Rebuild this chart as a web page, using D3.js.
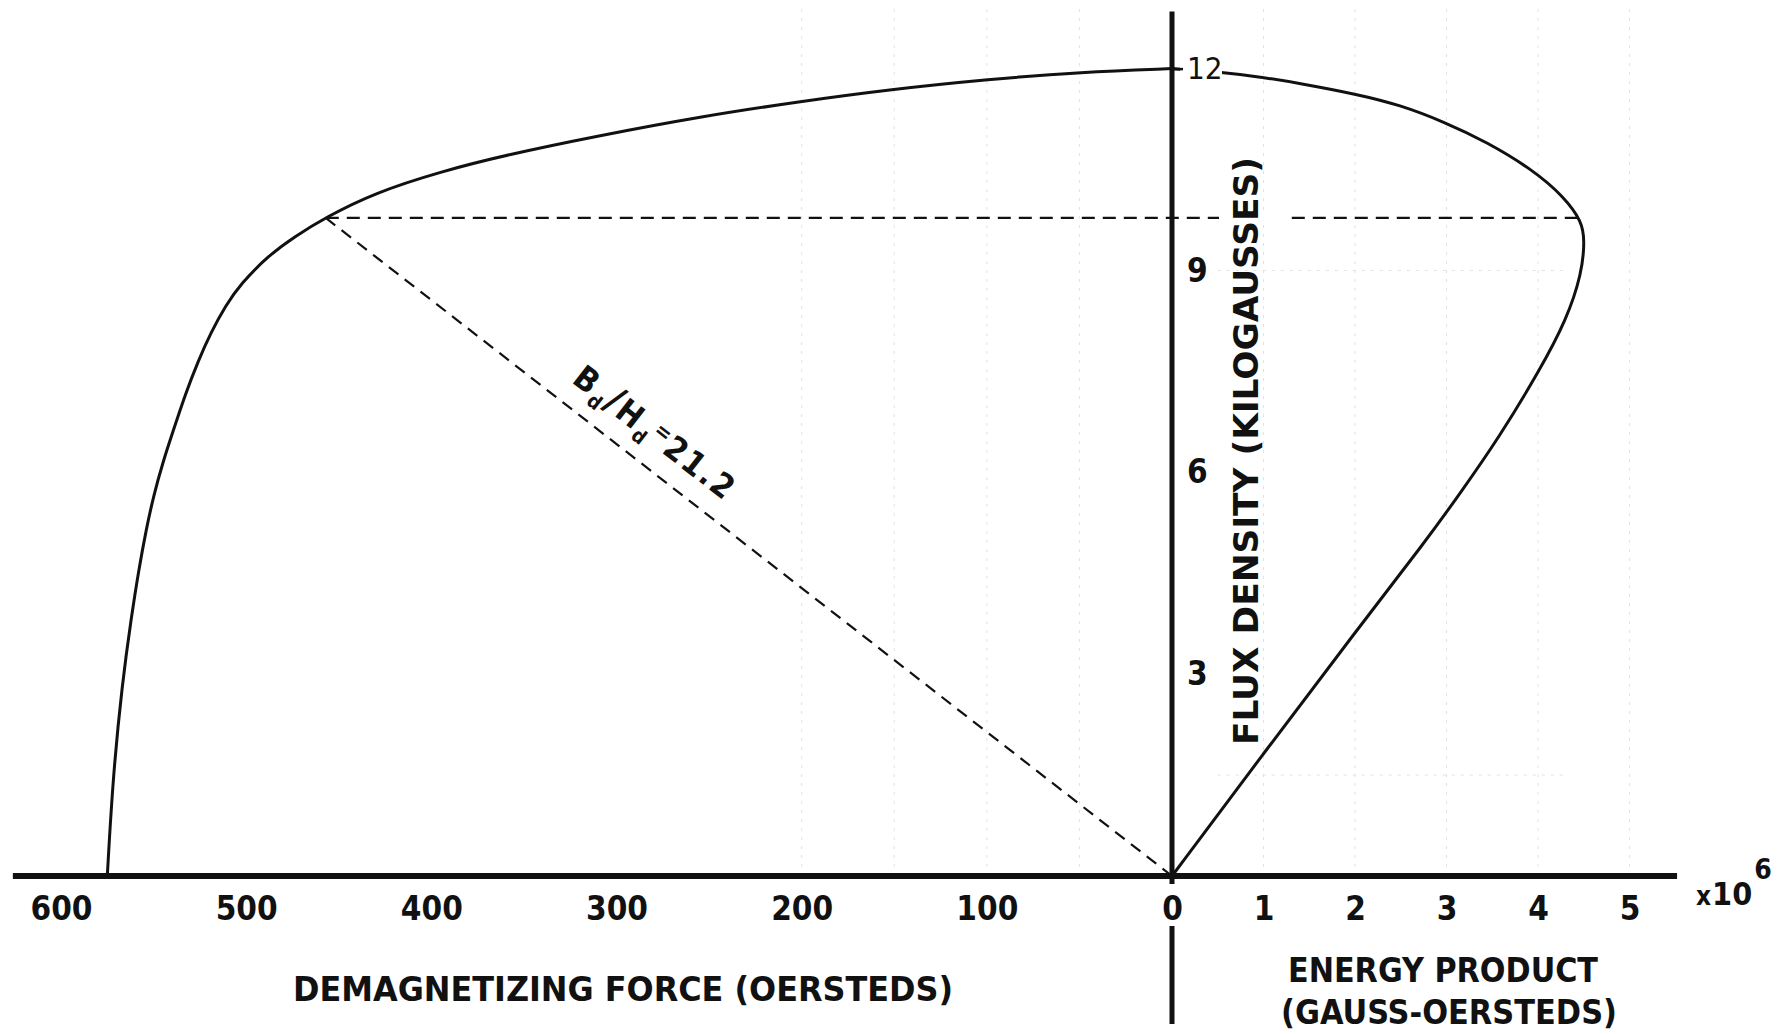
<!DOCTYPE html>
<html><head><meta charset="utf-8">
<script src="https://cdn.jsdelivr.net/npm/d3@7"></script>
<style>
body{margin:0;background:#fff;}
svg{display:block;background:#fff;}
text{font-family:'DejaVu Sans Condensed','DejaVu Sans',sans-serif;font-stretch:condensed;font-weight:bold;fill:#111;}
</style></head><body>
<svg id="chart" width="1783" height="1034"></svg>
<script>
// Demagnetization curve: H (oersteds) and B (kilogausses)
const demagH = [575, 572, 567, 562, 558, 554, 550, 545, 539, 533, 526, 519, 511, 503, 488, 474, 457, 431, 395, 359, 312, 254, 201, 152, 99, 49, 0];
const demagB = [0, 1.45, 2.85, 3.85, 4.55, 5.15, 5.65, 6.15, 6.65, 7.15, 7.65, 8.08, 8.48, 8.8, 9.22, 9.5, 9.79, 10.15, 10.47, 10.72, 10.99, 11.29, 11.51, 11.69, 11.84, 11.95, 12.0];
// Energy product curve: E (x10^6 gauss-oersteds) and B (kilogausses)
const energyE = [0, 1.0, 2.0, 2.78, 3.15, 3.58, 4.02, 4.31, 4.48, 4.51, 4.48, 4.28, 3.95, 3.44, 2.97, 2.49, 2.02, 1.40, 1.0, 0.52, 0];
const energyB = [0, 1.82, 3.62, 4.99, 5.69, 6.53, 7.52, 8.26, 8.96, 9.45, 9.73, 10.10, 10.49, 10.91, 11.21, 11.46, 11.62, 11.78, 11.87, 11.95, 12.0];
// Point of maximum energy product
const maxH = 457, maxB = 9.78, maxE = 4.47;
const ratioText = "21.2";
// Tick labels
const forceTicks = [600, 500, 400, 300, 200, 100, 0];
const energyTicks = [1, 2, 3, 4, 5];
const fluxTicks = [3, 6, 9, 12];
// Faint background graph-paper lines
const faintForce = [50, 100, 150, 200];
const faintEnergy = [1, 2, 3, 4, 5];

const svg = d3.select("#chart");
const x = d3.scaleLinear().domain([0, 600]).range([1172, 61]);
const e = d3.scaleLinear().domain([0, 5]).range([1172, 1629.5]);
const y = d3.scaleLinear().domain([0, 12]).range([876, 68.6]);

// faint grid
const g0 = svg.append("g").attr("stroke", "#e2e2e2").attr("stroke-width", 1).attr("stroke-dasharray", "3,6");
faintForce.forEach(v => g0.append("line").attr("x1", x(v)).attr("x2", x(v)).attr("y1", y(0)).attr("y2", y(12.9)));
faintEnergy.forEach(v => g0.append("line").attr("x1", e(v)).attr("x2", e(v)).attr("y1", y(0)).attr("y2", y(12.9)));
g0.append("line").attr("x1", e(0.5)).attr("x2", e(4.3)).attr("y1", y(1.5)).attr("y2", y(1.5));
g0.append("line").attr("x1", e(0.5)).attr("x2", e(4.3)).attr("y1", y(9)).attr("y2", y(9));

// dashed construction lines
svg.append("line").attr("x1", x(0)).attr("y1", y(0)).attr("x2", x(maxH)).attr("y2", y(maxB))
  .attr("stroke", "#111").attr("stroke-width", 2.2).attr("stroke-dasharray", "12,8");
svg.append("line").attr("x1", x(maxH)).attr("y1", y(maxB)).attr("x2", e(maxE)).attr("y2", y(maxB))
  .attr("stroke", "#111").attr("stroke-width", 2.2).attr("stroke-dasharray", "13,8");

// curves
const demag = demagH.map((h, i) => [x(h), y(demagB[i])]);
const energy = energyE.map((v, i) => [e(v), y(energyB[i])]);
const line = d3.line().curve(d3.curveBasis);
svg.append("path").attr("d", line(demag)).attr("fill", "none").attr("stroke", "#111").attr("stroke-width", 3);
svg.append("path").attr("d", line(energy)).attr("fill", "none").attr("stroke", "#111").attr("stroke-width", 3);

// main axes lines
svg.append("line").attr("x1", x(626)).attr("x2", e(5.52)).attr("y1", y(0)).attr("y2", y(0))
  .attr("stroke", "#111").attr("stroke-width", 6);
svg.append("line").attr("x1", x(0)).attr("x2", x(0)).attr("y1", y(12.85)).attr("y2", y(-2.2))
  .attr("stroke", "#111").attr("stroke-width", 5);

// bottom axes (tick labels)
const axH = svg.append("g").attr("transform", `translate(0,${y(0)})`)
  .call(d3.axisBottom(x).tickValues(forceTicks).tickSize(0).tickFormat(d3.format("d")));
const axE = svg.append("g").attr("transform", `translate(0,${y(0)})`)
  .call(d3.axisBottom(e).tickValues(energyTicks).tickSize(0).tickFormat(d3.format("d")));
[axH, axE].forEach(a => {
  a.select(".domain").remove();
  a.selectAll("text").attr("y", 21).attr("dy", "0.71em")
    .style("font-size", "33px").style("font-family", null).attr("fill", "#111");
});
// white gap behind "0" on the vertical axis
axH.selectAll(".tick").filter(d => d === 0).insert("rect", "text")
  .attr("x", -12).attr("y", 8).attr("width", 24).attr("height", 42).attr("fill", "#fff");

// right (flux) axis labels
const axB = svg.append("g").attr("transform", `translate(${x(0)},0)`)
  .call(d3.axisRight(y).tickValues(fluxTicks).tickSize(0).tickPadding(15).tickFormat(d3.format("d")));
axB.select(".domain").remove();
axB.selectAll("text").style("font-size", "33px").style("font-family", null).attr("fill", "#111");
axB.selectAll(".tick").filter(d => d === 12).each(function() {
  const t = d3.select(this);
  t.insert("rect", "text").attr("x", 8).attr("y", -18).attr("width", 42).attr("height", 34).attr("fill", "#fff");
  t.insert("line", "text").attr("x1", 0).attr("x2", 11).attr("y1", 0).attr("y2", 0).attr("stroke", "#111").attr("stroke-width", 2.5);
  t.select("text").style("font-weight", "normal").style("font-size", "31px");
});

// axis titles
svg.append("text").attr("x", 293).attr("y", 1001).attr("textLength", 660).attr("lengthAdjust", "spacingAndGlyphs")
  .style("font-size", "33px").text("DEMAGNETIZING FORCE (OERSTEDS)");
svg.append("text").attr("x", 1288).attr("y", 982).attr("textLength", 310).attr("lengthAdjust", "spacingAndGlyphs")
  .style("font-size", "33px").text("ENERGY PRODUCT");
svg.append("text").attr("x", 1281).attr("y", 1024).attr("textLength", 336).attr("lengthAdjust", "spacingAndGlyphs")
  .style("font-size", "33px").text("(GAUSS-OERSTEDS)");

// vertical title; the dashed line is interrupted around it
svg.append("rect").attr("x", 1219).attr("y", y(maxB) - 5).attr("width", 70).attr("height", 10).attr("fill", "#fff");
svg.append("text").attr("transform", "translate(1258,745) rotate(-90)").attr("textLength", 588).attr("lengthAdjust", "spacingAndGlyphs")
  .style("font-size", "34px").text("FLUX DENSITY (KILOGAUSSES)");

// x10^6
const mult = svg.append("text").attr("x", 1696).attr("y", 905);
mult.append("tspan").style("font-size", "26px").text("x");
mult.append("tspan").style("font-size", "32px").attr("dx", 1).text("10");
mult.append("tspan").style("font-size", "28px").attr("dx", 2).attr("dy", -26).text("6");

// Bd/Hd label along the dashed line
const ang = Math.atan2(y(0) - y(maxB), x(0) - x(maxH)) * 180 / Math.PI;
const labH = 290;
const lab = svg.append("g").attr("transform", `translate(${x(labH)},${y(maxB * labH / maxH)}) rotate(${ang})`);
const lt = lab.append("text").attr("x", 0).attr("y", -21).attr("text-anchor", "middle").style("font-size", "33px").style("letter-spacing", "2px");
lt.append("tspan").text("B");
lt.append("tspan").style("font-size", "20px").attr("dy", 8).text("d");
lt.append("tspan").attr("dy", -8).style("font-size", "38px").text("/");
lt.append("tspan").text("H");
lt.append("tspan").style("font-size", "20px").attr("dy", 8).text("d");
lt.append("tspan").style("font-size", "22px").attr("dy", -18).text("=");
lt.append("tspan").attr("dy", 10).text(ratioText);
</script>
</body></html>
